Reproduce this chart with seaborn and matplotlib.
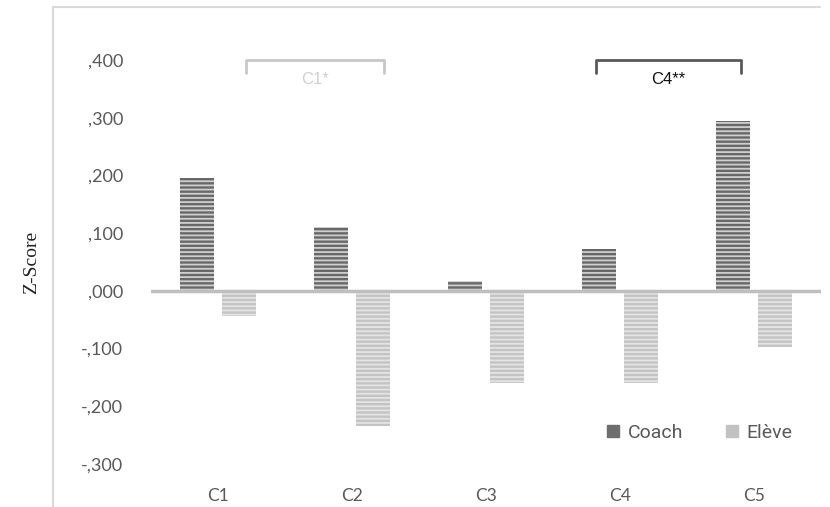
import pandas as pd
import matplotlib
matplotlib.use("Agg")
import matplotlib.pyplot as plt
from matplotlib.lines import Line2D
from matplotlib.ticker import FuncFormatter
import seaborn as sns

categories = ["C1", "C2", "C3", "C4", "C5"]
coach = [0.196, 0.111, 0.017, 0.073, 0.295]
eleve = [-0.043, -0.235, -0.160, -0.160, -0.097]
groups = ["Coach", "Elève"]
brackets = [("C1*", 0.21, 1.24, "#c8c8c8", "#d0d0d0"), ("C4**", 2.82, 3.9, "#595959", "#111111")]

df = pd.DataFrame({
    "cat": categories * 2,
    "z": coach + eleve,
    "grp": [groups[0]] * len(categories) + [groups[1]] * len(categories),
})

sns.set_style("white")
plt.rcParams["font.family"] = ["Lato", "DejaVu Sans"]
plt.rcParams["hatch.linewidth"] = 1.3

fig = plt.figure(figsize=(8.3, 5.07), dpi=100)
W, H = 830, 507
ax = fig.add_axes([151 / W, 1 - 470 / H, 670 / W, 440 / H])

sns.barplot(data=df, x="cat", y="z", hue="grp", palette=["#686868", "#c4c4c4"],
            width=0.63, gap=0.19, legend=False, ax=ax, saturation=1)

# striped fill like the original
stripe = {"Coach": "#cfcfcf", "Elève": "#e4e4e4"}
for cont, g in zip(ax.containers, groups):
    for p in cont:
        p.set_hatch("----")
        p.set_edgecolor(stripe[g])
        p.set_linewidth(0)

ax.axhline(0, color="#bfbfbf", lw=2.5, zorder=3)
ax.set_ylim(-0.3104, 0.452)
ax.set_xlim(-0.5, 4.5)
ax.set_yticks([0.4, 0.3, 0.2, 0.1, 0.0, -0.1, -0.2, -0.3])
ax.yaxis.set_major_formatter(FuncFormatter(lambda v, _: f"{v:.3f}".replace("0.", ",")))
ax.tick_params(axis="y", length=0, pad=20, labelsize=13, labelcolor="#595959")
ax.tick_params(axis="x", length=0, pad=13, labelsize=12.5, labelcolor="#595959")
for s in ax.spines.values():
    s.set_visible(False)
ax.set_xlabel("")
ax.set_ylabel("")
fig.text(32 / W, 1 - 262 / H, "Z-Score", rotation=90, ha="center", va="center",
         fontsize=14, family="Liberation Serif", color="#222222")

# significance brackets
for label, x0, x1, lc, tc in brackets:
    ax.plot([x0, x0, x1, x1], [0.378, 0.400, 0.400, 0.378], color=lc, lw=2, clip_on=False)
    ax.text((x0 + x1) / 2, 0.366, label, ha="center", va="center", fontsize=12,
            family="Liberation Sans", color=tc)

handles = [Line2D([], [], marker="s", ls="", markersize=9, color=c)
           for c in ["#6e6e6e", "#c2c2c2"]]
leg = ax.legend(handles, groups, ncol=2, loc="center", bbox_to_anchor=(0.815, 0.084),
                frameon=False, handletextpad=0.15, columnspacing=1.9, handlelength=1.2,
                prop={"family": "Roboto", "size": 14})
for t in leg.get_texts():
    t.set_color("#595959")

# outer frame of the screenshot
fig.add_artist(Line2D([53 / W, 53 / W], [0, 1 - 7 / H], color="#d9d9d9", lw=1.5))
fig.add_artist(Line2D([53 / W, 820 / W], [1 - 7 / H, 1 - 7 / H], color="#d9d9d9", lw=1.5))

fig.savefig("out.png", dpi=100)
